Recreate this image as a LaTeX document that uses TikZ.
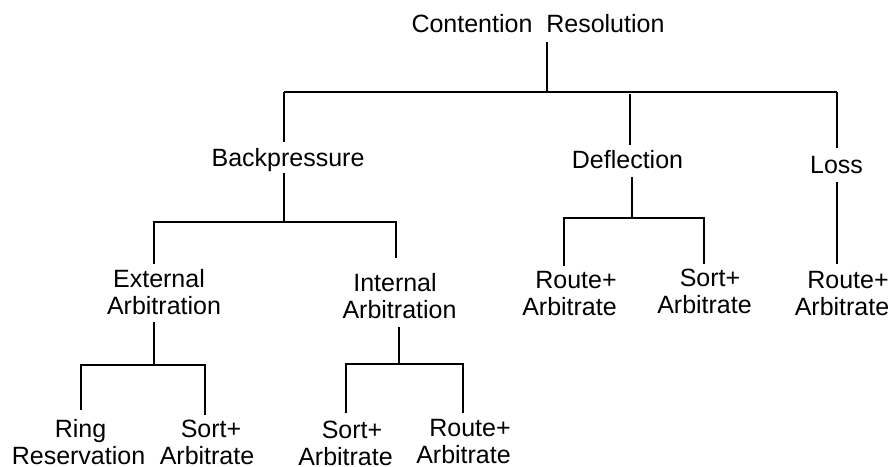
\documentclass[tikz,border=0pt]{standalone}
\usepackage{fontspec}
\setmainfont{Liberation Sans}
\begin{document}
\begin{tikzpicture}[x=1pt,y=-1pt,
  lbl/.style={inner sep=0pt, align=center, font=\fontsize{25}{26.5}\selectfont},
  link/.style={line width=1.6pt},
  topbar/.style={line width=2.1pt}]
\useasboundingbox (0,0) rectangle (891,466);

% labels
\node[lbl, anchor=base] (root) at (538,32) {Contention\ \ Resolution};
\node[lbl, anchor=base] (bp)   at (288,166) {Backpressure};
\node[lbl, anchor=base] (defl) at (627.5,168) {Deflection};
\node[lbl, anchor=base] (loss) at (836.5,173) {Loss};

\node[lbl] (ext)  at (164,292.3)   {External\kern10pt\\Arbitration};
\node[lbl] (int)  at (399.5,296.3) {Internal\kern9pt\\Arbitration};
\node[lbl] (dra)  at (569.5,293.3) {\kern13pt Route+\\Arbitrate};
\node[lbl] (dsa)  at (704.5,291.3) {\kern11pt Sort+\\Arbitrate};
\node[lbl] (lra)  at (842,293.3)   {\kern12pt Route+\\Arbitrate};

\node[lbl] (ring) at (78.5,442.3)  {\kern4pt Ring\\Reservation};
\node[lbl] (esa)  at (207,442.3)   {\kern8pt Sort+\\Arbitrate};
\node[lbl] (isa)  at (345.5,443.3) {\kern13pt Sort+\\Arbitrate};
\node[lbl] (ira)  at (463.5,441.3) {\kern13pt Route+\\Arbitrate};

% connector end points and junctions
\coordinate (rootS) at (547,42);
\coordinate (j0)    at (547,92);
\coordinate (bpT)   at (284,92);
\coordinate (bpN)   at (284,142);
\coordinate (deflT) at (630,94);
\coordinate (deflN) at (630,145);
\coordinate (lossT) at (837,92);
\coordinate (lossN) at (837,148);

\coordinate (bpS)   at (284,173);
\coordinate (j1)    at (284,222);
\coordinate (extN)  at (154,264);
\coordinate (intN)  at (396,258);

\coordinate (extS)  at (154,322);
\coordinate (j2)    at (154,365);
\coordinate (ringN) at (81,410);
\coordinate (esaN)  at (205,415);

\coordinate (intS)  at (399,327);
\coordinate (j3)    at (399,364);
\coordinate (isaN)  at (346,413);
\coordinate (iraN)  at (463,413);

\coordinate (deflS) at (632,177);
\coordinate (j4)    at (632,218);
\coordinate (draN)  at (564,266);
\coordinate (dsaN)  at (704,264);

\coordinate (lossS) at (837,182);
\coordinate (lraN)  at (837,264);

% top level
\draw[link] (rootS) -- (j0);
\draw[topbar] (bpT) -- (lossT);
\draw[link] (bpT) -- (bpN);
\draw[link] (deflT) -- (deflN);
\draw[link] (lossT) -- (lossN);

% Backpressure
\draw[link] (bpS) -- (j1);
\draw[link] (extN) -- (extN |- j1) -- (intN |- j1) -- (intN);

% External Arbitration
\draw[link] (extS) -- (j2);
\draw[link] (ringN) -- (ringN |- j2) -- (esaN |- j2) -- (esaN);

% Internal Arbitration
\draw[link] (intS) -- (j3);
\draw[link] (isaN) -- (isaN |- j3) -- (iraN |- j3) -- (iraN);

% Deflection
\draw[link] (deflS) -- (j4);
\draw[link] (draN) -- (draN |- j4) -- (dsaN |- j4) -- (dsaN);

% Loss
\draw[link] (lossS) -- (lraN);
\end{tikzpicture}
\end{document}
